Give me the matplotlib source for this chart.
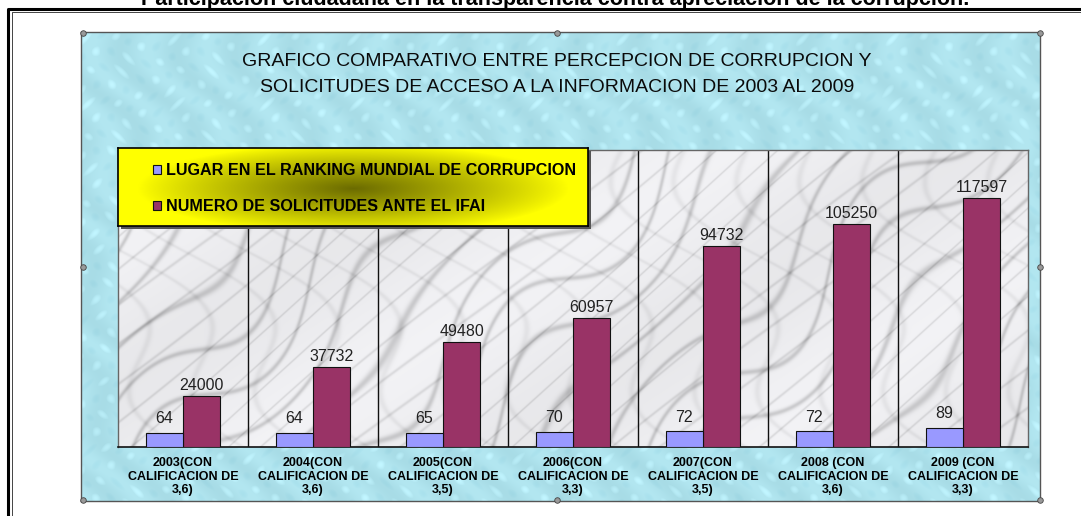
import numpy as np
import matplotlib
matplotlib.use("Agg")
import matplotlib.pyplot as plt
from matplotlib.lines import Line2D
from matplotlib.patches import Rectangle

# ---------------- data ----------------
categories = [
    "2003(CON\nCALIFICACION DE\n3,6)",
    "2004(CON\nCALIFICACION DE\n3,6)",
    "2005(CON\nCALIFICACION DE\n3,5)",
    "2006(CON\nCALIFICACION DE\n3,3)",
    "2007(CON\nCALIFICACION DE\n3,5)",
    "2008 (CON\nCALIFICACION DE\n3,6)",
    "2009 (CON\nCALIFICACION DE\n3,3)",
]
ranking = [64, 64, 65, 70, 72, 72, 89]
solicitudes = [24000, 37732, 49480, 60957, 94732, 105250, 117597]
series_names = ["LUGAR EN EL RANKING MUNDIAL DE CORRUPCION",
                "NUMERO DE SOLICITUDES ANTE EL IFAI"]
chart_title = ["GRAFICO COMPARATIVO ENTRE PERCEPCION DE CORRUPCION Y",
               "SOLICITUDES DE ACCESO A LA INFORMACION DE 2003 AL 2009"]
page_title = "Participación ciudadana en la transparencia contra apreciación de la corrupción."

plt.rcParams['font.family'] = ['Liberation Sans', 'DejaVu Sans']

W, H = 1081, 516
fig = plt.figure(figsize=(W / 100, H / 100), dpi=100)
fig.patch.set_facecolor('white')


def box(x0, y0, x1, y1):
    return [x0 / W, 1 - y1 / H, (x1 - x0) / W, (y1 - y0) / H]


def fx(x):
    return x / W


def fy(y):
    return 1 - y / H


# ---------------- page frame & title ----------------
fig.text(fx(555), fy(5), page_title, ha='center', va='baseline',
         fontsize=15.5, fontweight='bold')
fig.add_artist(Line2D([fx(8), fx(8), fx(1081)], [fy(516), fy(9), fy(9)],
                      color='black', lw=2.2, transform=fig.transFigure))
fig.add_artist(Line2D([fx(11.5), fx(11.5), fx(1081)], [fy(516), fy(12), fy(12)],
                      color='#444444', lw=0.7, transform=fig.transFigure))

# ---------------- chart area background (water drops) ----------------
bg = fig.add_axes(box(81, 32, 1040, 501))
yy, xx = np.mgrid[0:469, 0:959].astype(float)
p = np.sin(xx * 0.21 + 1.7 * np.sin(yy * 0.09)) * np.sin(yy * 0.19 + 1.3 * np.sin(xx * 0.07))
q = np.sin(xx * 0.11 - yy * 0.06 + 2.0 * np.sin(yy * 0.05))
base = np.array([0.68, 0.885, 0.925])
img = (base[None, None, :]
       + 0.14 * np.clip(p - 0.55, 0, 1)[..., None]
       - 0.07 * np.clip(-p - 0.55, 0, 1)[..., None] * np.array([1.0, 0.6, 0.4])
       + 0.02 * q[..., None])
bg.imshow(np.clip(img, 0, 1), aspect='auto', extent=[0, 1, 0, 1], interpolation='bilinear')
bg.set_xlim(0, 1)
bg.set_ylim(0, 1)
bg.set_xticks([])
bg.set_yticks([])
for s in bg.spines.values():
    s.set_color('#555555')
    s.set_linewidth(1.0)

fig.text(fx(557), fy(62), chart_title[0], ha='center', va='center', fontsize=14, color='#0a0a0a')
fig.text(fx(557), fy(87), chart_title[1], ha='center', va='center', fontsize=14, color='#0a0a0a')

# ---------------- plot area ----------------
ax = fig.add_axes(box(118, 150, 1028, 447))
ax.set_zorder(2)
x = np.arange(len(categories))
ymax1 = 140100
ymax2 = 1375
ax.set_xlim(-0.5, len(categories) - 0.5)
ax.set_ylim(0, ymax1)

my, mx = np.mgrid[0:297, 0:910].astype(float)
v1 = np.sin(0.05 * (mx + 0.9 * my) + 1.4 * np.sin(0.012 * mx - 0.018 * my) + 0.8 * np.sin(0.035 * mx))
v2 = np.sin(0.08 * (mx + 1.2 * my) + 1.2 * np.sin(0.02 * mx + 0.015 * my))
v3 = np.sin(0.05 * (mx - 0.7 * my) + 2.0 * np.sin(0.03 * my))
gray = (0.93 - 0.15 * np.exp(-(v1 ** 2) * 30) - 0.09 * np.exp(-(v2 ** 2) * 45)
        - 0.05 * np.exp(-(v3 ** 2) * 35) + 0.02 * np.sin(0.013 * mx + 0.02 * my))
marble = np.clip(gray[..., None] * np.array([1.0, 1.0, 1.012])[None, None, :], 0, 1)
ax.imshow(marble, aspect='auto', extent=[-0.5, len(categories) - 0.5, 0, ymax1],
          zorder=0, interpolation='bilinear')

for b in np.arange(0.5, len(categories) - 0.5, 1.0):
    ax.axvline(b, color='#111111', lw=1.0, zorder=1)

bw = 0.285
off = 0.143
bars_m = ax.bar(x + off, solicitudes, width=bw, color='#993366', edgecolor='#111111',
                lw=0.8, zorder=3, label=series_names[1])
ax.bar_label(bars_m, labels=[str(v) for v in solicitudes], padding=2, fontsize=11.5, color='#222222')

ax.set_yticks([])
ax.set_xticks(x)
ax.set_xticklabels(categories, fontsize=9, fontweight='bold', linespacing=1.2)
ax.tick_params(axis='x', length=0, pad=7)
for side in ['left', 'right', 'top']:
    ax.spines[side].set_color('#666666')
    ax.spines[side].set_linewidth(1.0)
ax.spines['bottom'].set_color('#111111')
ax.spines['bottom'].set_linewidth(1.2)

ax2 = ax.twinx()
ax2.set_ylim(0, ymax2)
bars_b = ax2.bar(x - off, ranking, width=bw, color='#9999ff', edgecolor='#111111',
                 lw=0.8, zorder=3, label=series_names[0])
ax2.bar_label(bars_b, labels=[str(v) for v in ranking], padding=5, fontsize=11.5, color='#222222')
ax2.set_yticks([])
for s in ax2.spines.values():
    s.set_visible(False)

# ---------------- legend box ----------------
fig.add_artist(Rectangle((fx(121), fy(229)), (588 - 118) / W, (226 - 148) / H,
                         transform=fig.transFigure, facecolor='#555555', edgecolor='none', zorder=2.5))
lax = fig.add_axes(box(118, 148, 588, 226))
lax.set_zorder(3)
ly, lx = np.mgrid[0:78, 0:470].astype(float)
d = np.sqrt(((lx - 235) / 215) ** 2 + ((ly - 40) / 45) ** 2)
f = np.clip(1 - d, 0, 1) ** 0.9
yellow = np.array([1.0, 1.0, 0.0])
lg = yellow[None, None, :] * (1 - 0.58 * f[..., None])
lax.imshow(lg, aspect='auto', extent=[0, 1, 0, 1], interpolation='bilinear')
lax.set_xlim(0, 1)
lax.set_ylim(0, 1)
lax.set_xticks([])
lax.set_yticks([])
for s in lax.spines.values():
    s.set_color('black')
    s.set_linewidth(1.2)

leg = fig.legend(handles=[bars_b, bars_m], labels=series_names, loc='upper left',
                 bbox_to_anchor=(fx(142), fy(152)), frameon=False,
                 prop=dict(weight='bold', size=11.6), handlelength=0.5, handleheight=0.5,
                 handletextpad=0.3, labelspacing=1.3, borderpad=0.2)
leg.set_zorder(10)

# ---------------- selection handles ----------------
hx = [83, 557, 1040, 83, 1040, 83, 557, 1040]
hy = [33, 33, 33, 267, 267, 500, 500, 500]
fig.add_artist(Line2D([fx(v) for v in hx], [fy(v) for v in hy], ls='none', marker='o',
                      markersize=4, markerfacecolor='#999999', markeredgecolor='#444444',
                      markeredgewidth=0.6, transform=fig.transFigure, zorder=20))

fig.savefig("out.png", dpi=100)
